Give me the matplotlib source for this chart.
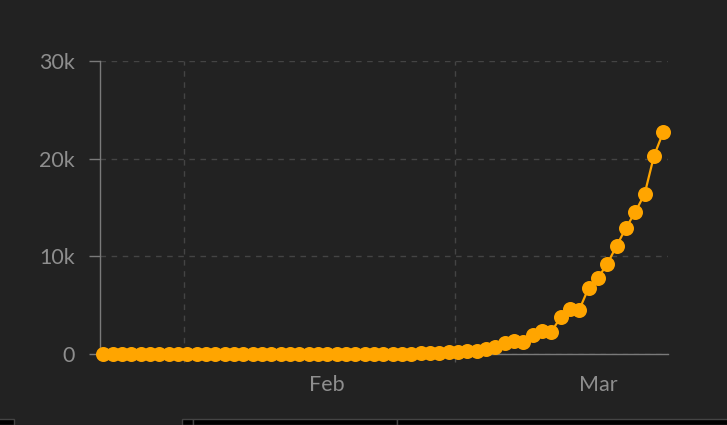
import matplotlib
matplotlib.use('Agg')
import matplotlib.pyplot as plt
import matplotlib.dates as mdates
from matplotlib.patches import Rectangle
from matplotlib.ticker import FuncFormatter
import pandas as pd

# daily cumulative counts
dates = pd.date_range('2020-01-23', periods=61, freq='D')
cases = [0, 0, 0, 0, 0, 0, 0, 0, 0, 0,
         0, 0, 0, 0, 0, 0, 0, 0, 0, 0,
         0, 0, 0, 0, 0, 0, 0, 0, 0, 10,
         20, 30, 40, 50, 60, 70, 100, 200, 230, 270,
         340, 480, 680, 1090, 1300, 1260, 1940, 2350, 2280, 3750,
         4600, 4540, 6780, 7800, 9240, 11080, 12920, 14550, 16400, 20280,
         22740]

month_starts = pd.to_datetime(['2020-02-01', '2020-03-01'])
month_labels = ['Feb', 'Mar']

bg = '#222222'
orange = '#FFA500'
txt = '#8e8e8e'
axis_col = '#7a7a7a'
grid_col = '#444444'

plt.rcParams['font.family'] = ['Lato', 'DejaVu Sans']

fig = plt.figure(figsize=(7.27, 4.25), dpi=100, facecolor=bg)
ax = fig.add_axes([100/727, (425-354)/425, 568/727, 293/425], facecolor=bg)

ax.plot(dates, cases, color=orange, linewidth=1.6, marker='o',
        markersize=10.8, markeredgewidth=0, clip_on=False, zorder=5)

ax.set_ylim(0, 30000)
ax.set_yticks([0, 10000, 20000, 30000])
ax.yaxis.set_major_formatter(FuncFormatter(lambda v, p: '0' if v == 0 else f'{int(v/1000)}k'))

x0 = mdates.date2num(dates[0])
ax.set_xlim(x0 - 0.35, x0 + 60.5)

# gridlines/ticks at month starts, labels mid month
grid_pos = [mdates.date2num(d) - 0.35 for d in month_starts]
label_pos = [mdates.date2num(d) + 15 for d in month_starts]
ax.set_xticks(label_pos)
ax.set_xticklabels(month_labels)
ax.set_xticks(grid_pos, minor=True)

ax.tick_params(axis='x', which='major', length=0, pad=15, labelsize=15.5, labelcolor=txt)
ax.tick_params(axis='x', which='minor', length=6, width=1, color='#555555', direction='out')
ax.tick_params(axis='y', length=8, width=1, color=axis_col, pad=10, labelsize=15.5, labelcolor=txt)

ax.grid(axis='y', which='major', color=grid_col, linestyle=(0, (4, 4)), linewidth=1)
ax.grid(axis='x', which='minor', color=grid_col, linestyle=(0, (4, 4)), linewidth=1)
ax.grid(axis='x', which='major', visible=False)

for s in ['top', 'right']:
    ax.spines[s].set_visible(False)
ax.spines['left'].set_color(axis_col)
ax.spines['bottom'].set_color(axis_col)
ax.spines['left'].set_linewidth(1)
ax.spines['bottom'].set_linewidth(1)

# page widgets cut off at the bottom edge
W, H = 727, 425
for x_a, x_b in [(-2, 14), (182, 193), (193, 397), (397, 729)]:
    fig.patches.append(Rectangle((x_a/W, 0), (x_b-x_a)/W, 6/H, transform=fig.transFigure,
                                 facecolor='black', edgecolor='#444444', linewidth=1))

plt.savefig('out.png', dpi=100, facecolor=bg)
